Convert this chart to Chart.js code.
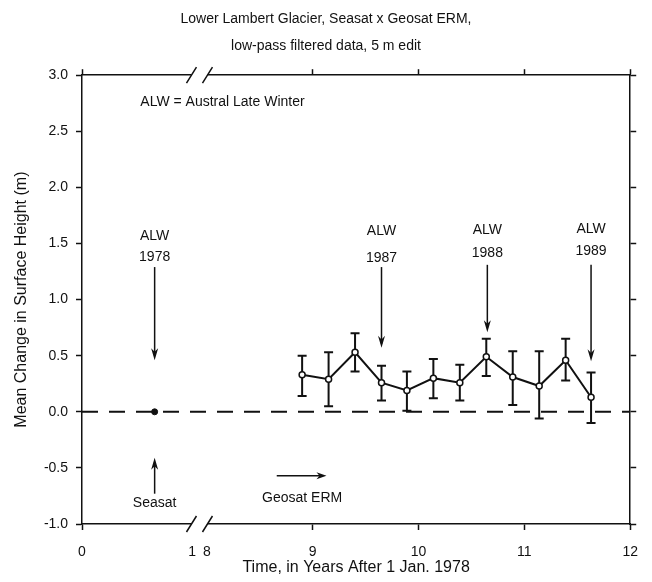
<!DOCTYPE html>
<html>
<head>
<meta charset="utf-8">
<script src="https://cdn.jsdelivr.net/npm/chart.js@4.4.1/dist/chart.umd.min.js"></script>
<style>
  html, body { margin: 0; padding: 0; background: #fff; }
  #wrap { width: 652px; height: 582px; }
</style>
</head>
<body>
<div id="wrap"><canvas id="glacier"></canvas></div>
<script>
// Geosat ERM crossover means, time in years after 1 Jan 1978
const GEOSAT_T  = [8.90, 9.15, 9.40, 9.65, 9.89, 10.14, 10.39, 10.64, 10.89, 11.14, 11.39, 11.63];
const GEOSAT_DH = [0.33, 0.29, 0.53, 0.26, 0.19, 0.30, 0.26, 0.49, 0.31, 0.23, 0.46, 0.13];
const GEOSAT_HI = [0.50, 0.53, 0.70, 0.41, 0.36, 0.47, 0.42, 0.65, 0.54, 0.54, 0.65, 0.35];
const GEOSAT_LO = [0.14, 0.05, 0.36, 0.10, 0.01, 0.12, 0.10, 0.32, 0.06, -0.06, 0.28, -0.10];

// Seasat reference epoch
const SEASAT_T  = [0.66];
const SEASAT_DH = [0];

const X_TICKS = [0, 1, 8, 9, 10, 11, 12];
const X_TICK_MARKS = [0, 9, 10, 11, 12];
const Y_TICKS = [-1.0, -0.5, 0.0, 0.5, 1.0, 1.5, 2.0, 2.5, 3.0];

// austral late winter markers: label, time, arrow tail / tip, text rows (metres)
const ALW_NOTES = [
  { year: '1978', t: 0.66,  tail: 1.29, tip: 0.46, row1: 1.57, row2: 1.38 },
  { year: '1987', t: 9.65,  tail: 1.29, tip: 0.57, row1: 1.61, row2: 1.37 },
  { year: '1988', t: 10.65, tail: 1.31, tip: 0.71, row1: 1.62, row2: 1.41 },
  { year: '1989', t: 11.63, tail: 1.31, tip: 0.45, row1: 1.63, row2: 1.43 }
];

// the time axis skips 1.x .. 8 years
const BREAK_AT = 4;
function axisPos(t) { return t < BREAK_AT ? t * 1.04 : t - 6.82; }

const FONT = '"Liberation Sans", Arial, Helvetica, sans-serif';
const INK = '#111';
Chart.defaults.font.family = FONT;
Chart.defaults.color = INK;

function arrow(ctx, x1, y1, x2, y2, head) {
  const a = Math.atan2(y2 - y1, x2 - x1);
  ctx.beginPath();
  ctx.moveTo(x1, y1);
  ctx.lineTo(x2 - Math.cos(a) * 4, y2 - Math.sin(a) * 4);
  ctx.stroke();
  ctx.beginPath();
  ctx.moveTo(x2, y2);
  ctx.lineTo(x2 - head * Math.cos(a) + 3.5 * Math.sin(a), y2 - head * Math.sin(a) - 3.5 * Math.cos(a));
  ctx.lineTo(x2 - head * 0.7 * Math.cos(a), y2 - head * 0.7 * Math.sin(a));
  ctx.lineTo(x2 - head * Math.cos(a) - 3.5 * Math.sin(a), y2 - head * Math.sin(a) + 3.5 * Math.cos(a));
  ctx.closePath();
  ctx.fill();
}

function axisBreak(ctx, xc, y) {
  ctx.fillStyle = '#fff';
  ctx.fillRect(xc - 8, y - 2, 16, 4);
  ctx.fillStyle = INK;
  ctx.beginPath();
  for (const dx of [-8, 8]) {
    ctx.moveTo(xc + dx - 5, y + 8);
    ctx.lineTo(xc + dx + 5, y - 8);
  }
  ctx.stroke();
}

const overlay = {
  id: 'overlay',
  beforeDatasetsDraw(chart) {
    const { ctx, scales: { x, y } } = chart;
    ctx.save();
    ctx.strokeStyle = INK;
    ctx.lineWidth = 2;
    GEOSAT_T.forEach((t, i) => {
      const px = x.getPixelForValue(axisPos(t));
      const top = y.getPixelForValue(GEOSAT_HI[i]);
      const bot = y.getPixelForValue(GEOSAT_LO[i]);
      ctx.beginPath();
      ctx.moveTo(px, top); ctx.lineTo(px, bot);
      ctx.moveTo(px - 4.5, top); ctx.lineTo(px + 4.5, top);
      ctx.moveTo(px - 4.5, bot); ctx.lineTo(px + 4.5, bot);
      ctx.stroke();
    });
    ctx.restore();
  },
  afterDraw(chart) {
    const { ctx, scales: { x, y }, chartArea } = chart;
    const X = t => x.getPixelForValue(axisPos(t));
    const Y = v => y.getPixelForValue(v);
    ctx.save();
    ctx.strokeStyle = INK;
    ctx.fillStyle = INK;
    ctx.lineWidth = 1.5;
    ctx.font = '14px ' + FONT;
    ctx.textBaseline = 'middle';

    ctx.textAlign = 'center';
    ALW_NOTES.forEach(n => {
      ctx.fillText('ALW', X(n.t), Y(n.row1));
      ctx.fillText(n.year, X(n.t), Y(n.row2));
      arrow(ctx, X(n.t), Y(n.tail), X(n.t), Y(n.tip), 12);
    });

    arrow(ctx, X(0.66), Y(-0.73), X(0.66), Y(-0.41), 12);
    ctx.fillText('Seasat', X(0.66), Y(-0.81));

    arrow(ctx, X(8.66), Y(-0.57), X(9.13), Y(-0.57), 10);
    ctx.fillText('Geosat ERM', X(8.9), Y(-0.77));

    ctx.textAlign = 'left';
    ctx.fillText('ALW = Austral Late Winter', X(0.53), Y(2.76));

    const xc = (X(1) + X(8)) / 2;
    axisBreak(ctx, xc, chartArea.top);
    axisBreak(ctx, xc, chartArea.bottom);
    ctx.restore();
  }
};

const axisBorder = { display: true, color: INK, width: 1.5 };
const xTickColor = c => X_TICK_MARKS.includes(X_TICKS[c.index]) ? INK : 'rgba(0,0,0,0)';
const setXTicks = s => { s.ticks = X_TICKS.map(t => ({ value: axisPos(t) })); };
const setYTicks = s => { s.ticks = Y_TICKS.map(v => ({ value: v })); };

new Chart(document.getElementById('glacier'), {
  type: 'line',
  data: {
    datasets: [
      {
        data: GEOSAT_T.map((t, i) => ({ x: axisPos(t), y: GEOSAT_DH[i] })),
        borderColor: INK,
        borderWidth: 2,
        pointRadius: 3,
        pointBackgroundColor: '#fff',
        pointBorderColor: INK,
        pointBorderWidth: 1.5,
        xAxisID: 'x', yAxisID: 'y'
      },
      {
        data: SEASAT_T.map((t, i) => ({ x: axisPos(t), y: SEASAT_DH[i] })),
        showLine: false,
        pointRadius: 3,
        pointBackgroundColor: INK,
        pointBorderColor: INK,
        xAxisID: 'x', yAxisID: 'y'
      },
      {
        data: [{ x: axisPos(0), y: 0 }, { x: axisPos(12), y: 0 }],
        borderColor: INK,
        borderWidth: 2,
        borderDash: [16, 11],
        pointRadius: 0,
        xAxisID: 'x', yAxisID: 'y'
      }
    ]
  },
  options: {
    responsive: true,
    maintainAspectRatio: false,
    animation: false,
    layout: { padding: 0 },
    plugins: {
      legend: { display: false },
      tooltip: { enabled: false },
      title: {
        display: true,
        text: ['Lower Lambert Glacier, Seasat x Geosat ERM,', 'low-pass filtered data, 5 m edit'],
        color: INK,
        font: { size: 14, weight: 'normal', lineHeight: 1.9 },
        padding: { top: 6, bottom: 0 }
      }
    },
    scales: {
      x: {
        type: 'linear', position: 'bottom',
        min: axisPos(0), max: axisPos(12),
        afterBuildTicks: setXTicks,
        afterFit: s => { s.height = 58; },
        ticks: { callback: (v, i) => String(X_TICKS[i]), font: { size: 14 }, padding: 14, autoSkip: false, maxRotation: 0 },
        grid: { drawOnChartArea: false, tickLength: 6, tickWidth: 1.5, tickColor: xTickColor },
        border: axisBorder,
        title: { display: true, text: 'Time, in Years After 1 Jan. 1978', font: { size: 16 }, padding: { top: 0, bottom: 5 } }
      },
      x2: {
        type: 'linear', axis: 'x', position: 'top',
        min: axisPos(0), max: axisPos(12),
        afterBuildTicks: setXTicks,
        afterFit: s => { s.height = 16; },
        ticks: { display: false },
        grid: { drawOnChartArea: false, tickLength: 6, tickWidth: 1.5, tickColor: xTickColor },
        border: axisBorder
      },
      y: {
        type: 'linear', position: 'left',
        min: -1, max: 3,
        afterBuildTicks: setYTicks,
        afterFit: s => { s.width = 82; },
        ticks: { callback: v => v.toFixed(1), font: { size: 14 }, padding: 8 },
        grid: { drawOnChartArea: false, tickLength: 6, tickWidth: 1.5, tickColor: INK },
        border: axisBorder,
        title: { display: true, text: 'Mean Change in Surface Height (m)', font: { size: 16 }, padding: { top: 12, bottom: 0 } }
      },
      y2: {
        type: 'linear', axis: 'y', position: 'right',
        min: -1, max: 3,
        afterBuildTicks: setYTicks,
        afterFit: s => { s.width = 21; },
        ticks: { display: false },
        grid: { drawOnChartArea: false, tickLength: 6, tickWidth: 1.5, tickColor: INK },
        border: axisBorder
      }
    }
  },
  plugins: [overlay]
});
</script>
</body>
</html>
